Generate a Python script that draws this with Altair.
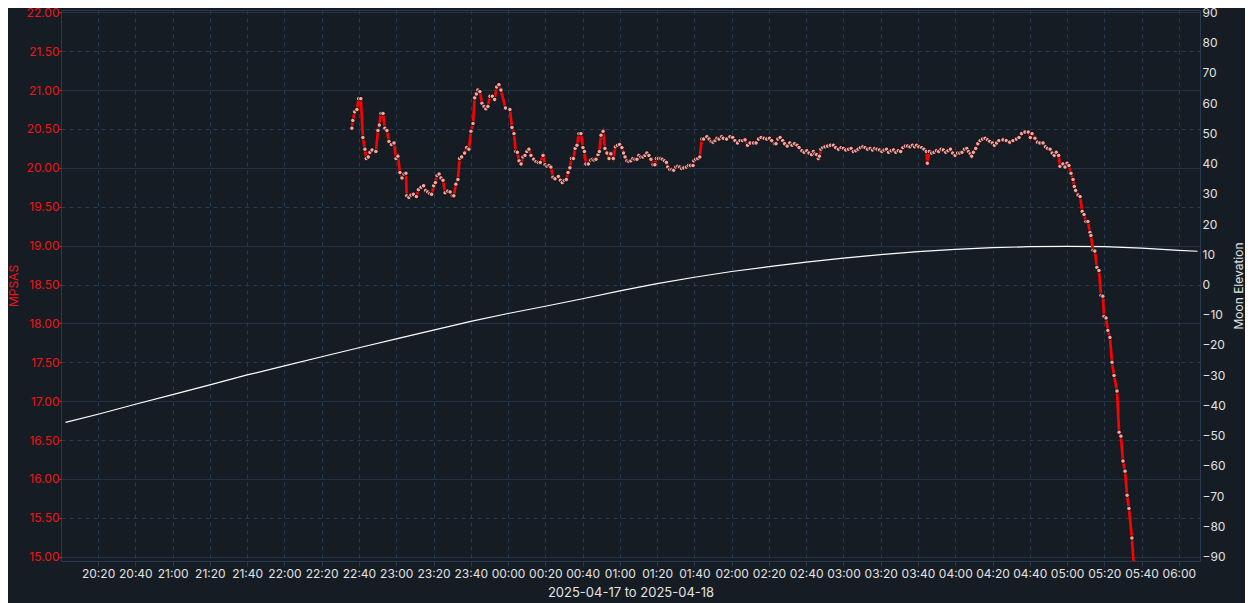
import altair as alt
import pandas as pd

BASE = pd.Timestamp("2025-04-17 20:00:00")

# Sky quality readings: minutes after 2025-04-17 20:00 and MPSAS value
sqm_minutes = [
    156.2, 156.7, 157.7, 158.9, 159.8, 161.0, 162.1, 163.2, 163.9, 165.0, 165.9, 167.0, 169.1, 170.2,
    170.9, 171.8, 172.9, 173.9, 175.0, 176.1, 177.4, 178.8, 179.9, 180.9, 182.0, 183.1, 184.2, 185.2,
    185.6, 186.8, 187.9, 189.2, 190.8, 191.9, 193.3, 194.7, 195.8, 196.9, 198.0, 199.0, 200.1, 201.0,
    201.9, 203.0, 204.0, 205.1, 206.2, 207.6, 208.9, 210.1, 210.9, 212.0, 213.1, 214.0, 215.1, 216.7,
    217.8, 219.0, 220.1, 221.2, 222.1, 223.0, 223.8, 224.9, 226.0, 227.1, 228.1, 229.2, 230.3, 231.6,
    232.8, 233.9, 235.1, 236.2, 238.6, 241.0, 242.1, 243.2, 244.1, 245.0, 245.9, 247.0, 248.0, 249.1,
    250.1, 251.2, 252.3, 253.8, 255.0, 256.2, 257.3, 258.8, 259.9, 260.9, 262.0, 263.0, 264.1, 265.2,
    267.0, 268.1, 269.1, 270.2, 271.3, 272.2, 273.2, 274.0, 275.1, 276.0, 277.0, 278.0, 279.1, 280.2,
    281.0, 281.8, 283.1, 284.2, 285.2, 286.1, 287.2, 288.3, 289.0, 289.9, 291.0, 292.0, 293.1, 294.2,
    295.2, 296.5, 297.6, 298.7, 299.9, 301.1, 302.0, 302.8, 303.8, 304.9, 305.9, 307.0, 308.1, 309.2,
    310.2, 311.3, 312.4, 313.5, 314.5, 315.6, 316.7, 317.8, 318.8, 319.6, 320.7, 321.9, 322.8, 323.9,
    325.0, 325.7, 326.8, 327.9, 328.9, 330.0, 331.1, 332.1, 333.2, 334.3, 335.7, 336.8, 337.9, 339.3,
    339.7, 340.7, 341.8, 342.9, 344.0, 345.0, 346.7, 347.9, 349.0, 350.0, 351.1, 352.1, 353.2, 354.6,
    355.5, 357.3, 359.1, 360.6, 361.8, 363.1, 364.5, 365.9, 367.2, 368.5, 369.9, 371.7, 373.1, 374.4,
    375.8, 377.4, 378.8, 380.3, 381.5, 383.0, 383.8, 384.8, 386.0, 387.4, 388.4, 389.8, 391.2, 392.4,
    393.7, 395.1, 396.2, 397.7, 398.9, 400.3, 401.5, 402.9, 403.9, 404.7, 405.6, 406.5, 407.1, 407.9,
    408.9, 410.1, 411.5, 413.0, 414.6, 415.8, 417.3, 418.7, 420.0, 421.2, 422.7, 424.1, 425.3, 426.6,
    427.8, 429.1, 430.4, 431.6, 432.9, 434.3, 435.6, 436.8, 438.0, 439.3, 440.6, 441.8, 443.1, 444.2,
    445.6, 446.9, 448.1, 449.4, 450.7, 451.9, 453.2, 454.4, 455.7, 457.0, 458.2, 459.3, 460.5, 462.0,
    463.2, 464.5, 465.0, 466.1, 467.3, 468.6, 469.9, 471.1, 472.4, 473.6, 474.9, 476.1, 477.4, 478.6,
    479.9, 481.2, 482.4, 483.6, 484.9, 486.2, 487.1, 488.0, 488.8, 489.7, 491.0, 492.1, 493.3, 494.6,
    496.0, 497.3, 498.5, 499.9, 501.0, 502.2, 503.4, 505.6, 507.4, 509.2, 511.0, 512.8, 514.2, 515.6,
    517.4, 519.2, 520.3, 521.2, 522.8, 524.1, 525.4, 527.1, 528.4, 529.5, 530.9, 532.0, 533.1, 534.2,
    535.5, 536.2, 537.8, 538.9, 540.0, 541.0, 542.1, 543.2, 543.9, 544.6, 545.9, 547.0, 548.1, 549.1,
    550.1, 551.2, 552.3, 552.8, 553.9, 554.9, 556.0, 557.1, 558.2, 559.2, 559.8, 560.9, 561.9, 563.0,
    564.1, 565.2, 566.8, 567.9, 568.9, 570.0, 571.1, 572.2, 573.2, 574.8, 575.9,
]
sqm_mpsas = [
    20.51, 20.61, 20.72, 20.75, 20.89, 20.89, 20.39, 20.24, 20.12, 20.14, 20.20, 20.23, 20.21, 20.48,
    20.55, 20.70, 20.70, 20.51, 20.48, 20.34, 20.30, 20.32, 20.12, 20.15, 19.94, 19.87, 19.92, 19.93,
    19.64, 19.62, 19.65, 19.66, 19.63, 19.72, 19.75, 19.77, 19.71, 19.69, 19.67, 19.66, 19.77, 19.81,
    19.90, 19.92, 19.87, 19.84, 19.68, 19.70, 19.69, 19.64, 19.64, 19.79, 19.85, 20.12, 20.14, 20.19,
    20.26, 20.24, 20.47, 20.57, 20.90, 20.95, 21.00, 20.98, 20.83, 20.79, 20.76, 20.79, 20.92, 20.92,
    20.88, 21.04, 21.07, 21.00, 20.77, 20.75, 20.52, 20.44, 20.21, 20.20, 20.09, 20.05, 20.14, 20.16,
    20.21, 20.24, 20.16, 20.11, 20.08, 20.07, 20.07, 20.16, 20.04, 20.02, 20.03, 20.01, 19.88, 19.86,
    19.89, 19.84, 19.81, 19.84, 19.85, 19.94, 20.00, 20.12, 20.12, 20.25, 20.29, 20.44, 20.44, 20.26,
    20.21, 20.05, 20.05, 20.10, 20.11, 20.10, 20.11, 20.17, 20.21, 20.42, 20.47, 20.25, 20.19, 20.12,
    20.18, 20.12, 20.27, 20.29, 20.30, 20.26, 20.19, 20.14, 20.09, 20.08, 20.09, 20.12, 20.11, 20.11,
    20.16, 20.14, 20.14, 20.16, 20.19, 20.16, 20.11, 20.04, 20.04, 20.12, 20.12, 20.12, 20.11, 20.09,
    20.07, 20.01, 19.98, 19.98, 19.97, 20.01, 20.02, 20.01, 19.99, 20.00, 20.01, 20.03, 20.03, 20.03,
    20.09, 20.11, 20.12, 20.14, 20.37, 20.37, 20.40, 20.37, 20.34, 20.33, 20.35, 20.38, 20.37, 20.40,
    20.38, 20.37, 20.40, 20.39, 20.35, 20.32, 20.35, 20.35, 20.36, 20.29, 20.32, 20.32, 20.32, 20.37,
    20.39, 20.38, 20.37, 20.38, 20.35, 20.31, 20.31, 20.37, 20.39, 20.35, 20.31, 20.28, 20.32, 20.29,
    20.31, 20.29, 20.26, 20.22, 20.20, 20.22, 20.19, 20.17, 20.21, 20.18, 20.17, 20.12, 20.15, 20.24,
    20.26, 20.27, 20.28, 20.29, 20.29, 20.26, 20.24, 20.26, 20.25, 20.23, 20.24, 20.25, 20.21, 20.22,
    20.24, 20.26, 20.27, 20.26, 20.24, 20.25, 20.23, 20.25, 20.24, 20.23, 20.21, 20.23, 20.24, 20.20,
    20.22, 20.23, 20.20, 20.22, 20.21, 20.26, 20.28, 20.28, 20.27, 20.29, 20.27, 20.29, 20.27, 20.26,
    20.24, 20.21, 20.06, 20.21, 20.19, 20.20, 20.22, 20.21, 20.24, 20.23, 20.20, 20.22, 20.24, 20.19,
    20.16, 20.19, 20.19, 20.20, 20.24, 20.25, 20.21, 20.18, 20.15, 20.20, 20.25, 20.31, 20.35, 20.37,
    20.38, 20.36, 20.34, 20.32, 20.29, 20.32, 20.35, 20.36, 20.35, 20.33, 20.35, 20.37, 20.39, 20.44,
    20.46, 20.46, 20.39, 20.44, 20.38, 20.33, 20.32, 20.32, 20.27, 20.25, 20.24, 20.19, 20.16, 20.20,
    20.16, 20.02, 20.05, 20.01, 20.06, 20.03, 19.93, 19.85, 19.76, 19.71, 19.65, 19.63, 19.44, 19.40,
    19.31, 19.31, 19.17, 19.13, 18.94, 18.93, 18.72, 18.68, 18.36, 18.35, 18.09, 18.07, 17.91, 17.82,
    17.50, 17.33, 17.13, 16.60, 16.55, 16.23, 16.10, 15.79, 15.62, 15.24, 14.85,
]

# Moon elevation (degrees): minutes after 2025-04-17 20:00
moon_minutes = [2.5, 20, 40, 60, 80, 100, 120, 140, 160, 180, 200, 220, 240, 260, 280, 300,
                320, 340, 360, 380, 400, 420, 440, 460, 480, 500, 520, 540, 560, 580, 600, 610]
moon_elevation = [-45.6, -42.9, -39.6, -36.4, -33.2, -29.9, -26.9, -23.9, -20.9, -18.0, -15.1,
                  -12.2, -9.6, -7.2, -4.7, -2.1, 0.3, 2.4, 4.3, 5.9, 7.4, 8.7, 9.9, 10.9, 11.6,
                  12.2, 12.5, 12.6, 12.5, 12.0, 11.3, 11.0]

mpsas_ticks = [15.0, 15.5, 16.0, 16.5, 17.0, 17.5, 18.0, 18.5, 19.0, 19.5, 20.0, 20.5, 21.0, 21.5, 22.0]
moon_ticks = [-90, -80, -70, -60, -50, -40, -30, -20, -10, 0, 10, 20, 30, 40, 50, 60, 70, 80, 90]

BG = "#151c24"
GRID = "#283a4f"
RED = "#f01515"
LIGHT = "#e2e2e2"
FONT = "Inter"


def stamp(m):
    return (BASE + pd.Timedelta(minutes=m)).strftime("%Y-%m-%dT%H:%M:%S")


sqm_df = pd.DataFrame({"time": [stamp(m) for m in sqm_minutes], "mpsas": sqm_mpsas})
moon_df = pd.DataFrame({"time": [stamp(m) for m in moon_minutes], "elev": moon_elevation})

x_enc = alt.X(
    "time:T",
    scale=alt.Scale(domain={"expr": "[toDate('2025-04-17T20:00:06'), toDate('2025-04-18T06:11:20')]"}),
    axis=alt.Axis(
        format="%H:%M",
        values={"expr": "sequence(+toDate('2025-04-17T20:20:00'), +toDate('2025-04-18T06:00:01'), 1200000)"},
        labelOverlap=False, labelFlush=False, grid=True, gridDash=[4, 4], gridColor=GRID,
        tickColor=GRID, tickSize=5, labelPadding=2, labelColor=LIGHT, labelFontSize=12,
        domain=False, titleColor=LIGHT, titleFontSize=13, titleFontWeight="normal",
        titleY=31, titleBaseline="middle",
    ),
    title="2025-04-17 to 2025-04-18",
)

y_sqm = alt.Y(
    "mpsas:Q",
    scale=alt.Scale(domain=[14.9447, 22.0296], nice=False, zero=False),
    axis=alt.Axis(
        orient="left", values=mpsas_ticks, format=".2f", grid=True, gridColor=GRID,
        gridDash={"condition": {"test": "datum.value % 1 === 0", "value": [1, 0]}, "value": [4, 4]},
        tickColor=RED, tickSize=2, labelPadding=0, labelColor=RED, labelFontSize=12,
        domain=False, titleColor=RED, titleFontSize=12, titleFontWeight="normal",
        titleAngle=270, titleX=-47.5, titleY=275.5, titleAlign="center", titleBaseline="middle",
    ),
    title="MPSAS",
)

y_moon = alt.Y(
    "elev:Q",
    scale=alt.Scale(domain=[-91.42, 90.76], nice=False, zero=False),
    axis=alt.Axis(
        orient="right", values=moon_ticks, format="d", grid=False, tickSize=0,
        labelPadding=2, labelColor=LIGHT, labelFontSize=12, domain=False,
        titleColor=LIGHT, titleFontSize=12, titleFontWeight="normal",
        titleAngle=270, titleX=38, titleY=275.5, titleAlign="center", titleBaseline="middle",
    ),
    title="Moon Elevation",
)

moon = alt.Chart(moon_df).mark_line(color="#ffffff", strokeWidth=1.2, clip=True).encode(x=x_enc, y=y_moon)

sqm_line = alt.Chart(sqm_df).mark_line(color="#ff0000", strokeWidth=2.7, clip=True).encode(x=x_enc, y=y_sqm)
sqm_pts = alt.Chart(sqm_df).mark_point(
    shape="circle", filled=True, size=20, fill="#f6a3a3", stroke="#000000", strokeWidth=0.8,
    opacity=1, clip=True,
).encode(x=x_enc, y=y_sqm)

sqm = alt.layer(sqm_line, sqm_pts)

chart = (
    alt.layer(moon, sqm)
    .resolve_scale(y="independent")
    .properties(
        width=1139, height=551,
        autosize=alt.AutoSizeParams(type="none"),
        padding={"left": 53, "top": 2, "right": 45, "bottom": 42},
        background=BG,
        usermeta={"embedOptions": {"defaultStyle": "body{background:%s;overflow:hidden;}" % BG}},
    )
    .configure(font=FONT)
    .configure_view(stroke=GRID, strokeWidth=1)
    .configure_axis(labelFont=FONT, titleFont=FONT)
)

chart.save("out.html", embed_options={"renderer": "svg", "actions": False})
